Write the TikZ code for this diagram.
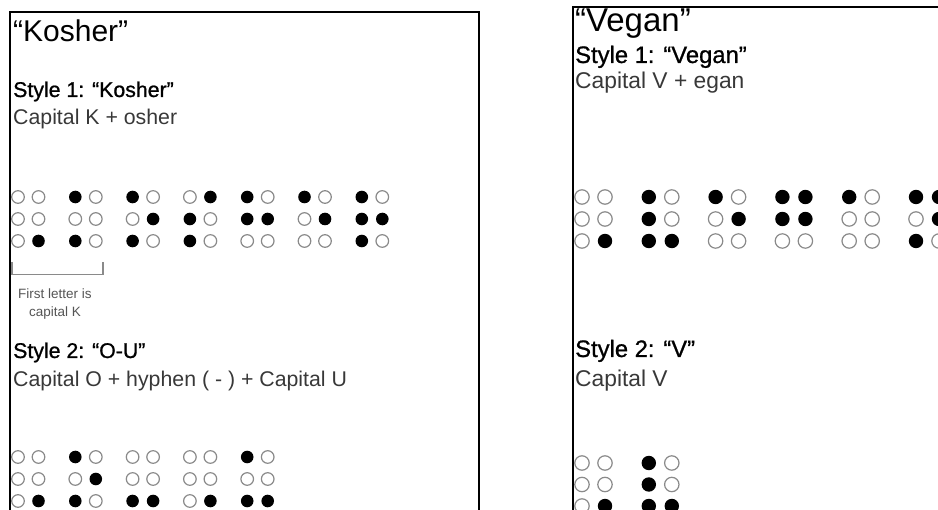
\documentclass[tikz,border=0pt]{standalone}
\usepackage{fontspec}
\setmainfont{Liberation Sans}
\newfontfamily\headfont[FakeBold=0.9]{Liberation Sans}
\usetikzlibrary{positioning}
\definecolor{dotgray}{HTML}{8A8A8A}
\definecolor{txtgray}{HTML}{383838}
\definecolor{notegray}{HTML}{555555}
% one braille cell: x, y of top left dot, six dots row by row
\newcommand{\brcell}[3]{%
  \foreach \d [count=\i from 0] in #3{%
    \pgfmathsetmacro{\cx}{#1+mod(\i,2)*\dotdx}%
    \pgfmathsetmacro{\cy}{#2+int(\i/2)*\dotdy}%
    \ifnum\d=1 \fill[dotfull] (\cx,\cy) circle[radius=\dotr];%
    \else \draw[dotempty] (\cx,\cy) circle[radius=\dotr];\fi
  }}

\begin{document}
\begin{tikzpicture}[x=1pt,y=-1pt,
    panel/.style={line width=2pt,black},
    dotfull/.style={fill=black},
    dotempty/.style={draw=dotgray,line width=1.2pt},
    title/.style={anchor=base west,inner sep=0pt,font=\fontsize{#1}{#1}\selectfont},
    heading/.style={anchor=base west,inner sep=0pt,font=\headfont\fontsize{#1}{#1}\selectfont},
    desc/.style={anchor=base west,inner sep=0pt,text=txtgray,font=\fontsize{#1}{#1}\selectfont},
    note/.style={align=center,inner sep=0pt,text=notegray,font=\fontsize{13.5}{18}\selectfont},
    bracket/.style={draw=dotgray,line width=1.2pt}]
  \useasboundingbox (0,0) rectangle (938,510);
  \clip (0,0) rectangle (938,510);
  % left panel
  \draw[panel] (10,530) -- (10,12.5) -- (479,12.5) -- (479,530);
  \node[title=30] (kosher) at (13,42) {“Kosher”};
  \node[heading=21.3] (kstyleA) at (13,97) {Style 1: “Kosher”};
  \node[desc=21.3] (kdescA) at (13,125) {Capital K + osher};
  \def\dotdx{20.5}\def\dotdy{22}\def\dotr{6.3pt}
  \foreach \p [count=\k from 0] in {{0,0,0,0,0,1},{1,0,0,0,1,0},{1,0,0,1,1,0},{0,1,1,0,1,0},{1,0,1,1,0,0},{1,0,0,1,0,0},{1,0,1,1,1,0}}
    {\brcell{18+57.3*\k}{197}{\p}}
  \draw[bracket] (12,262) -- (12,274.5) -- (103,274.5) -- (103,262);
  \node[note,anchor=north] (knote) at (55,289) {First letter is\\capital K};
  \node[heading=21.3] (kstyleB) at (13,358) {Style 2: “O-U”};
  \node[desc=21.3] (kdescB) at (13,387) {Capital O + hyphen ( - ) + Capital U};
  \foreach \p [count=\k from 0] in {{0,0,0,0,0,1},{1,0,0,1,1,0},{0,0,0,0,1,1},{0,0,0,0,0,1},{1,0,0,0,1,1}}
    {\brcell{18+57.3*\k}{457}{\p}}
  % right panel
  \draw[panel] (573,530) -- (573,7) -- (950,7);
  \node[title=33] (vegan) at (575,32) {“Vegan”};
  \node[heading=23.8] (vstyleA) at (575,63) {Style 1: “Vegan”};
  \node[desc=22.8] (vdescA) at (575,89) {Capital V + egan};
  \def\dotdx{23}\def\dotdy{22}\def\dotr{7.2pt}
  \foreach \p [count=\k from 0] in {{0,0,0,0,0,1},{1,0,1,0,1,1},{1,0,0,1,0,0},{1,1,1,1,0,0},{1,0,0,0,0,0},{1,1,0,1,1,0}}
    {\brcell{582+66.8*\k}{197}{\p}}
  \node[heading=23.8] (vstyleB) at (575,357) {Style 2: “V”};
  \node[desc=22.8] (vdescB) at (575,387) {Capital V};
  \def\dotdy{21.5}
  \foreach \p [count=\k from 0] in {{0,0,0,0,0,1},{1,0,1,0,1,1}}
    {\brcell{582+66.8*\k}{463}{\p}}
\end{tikzpicture}
\end{document}
